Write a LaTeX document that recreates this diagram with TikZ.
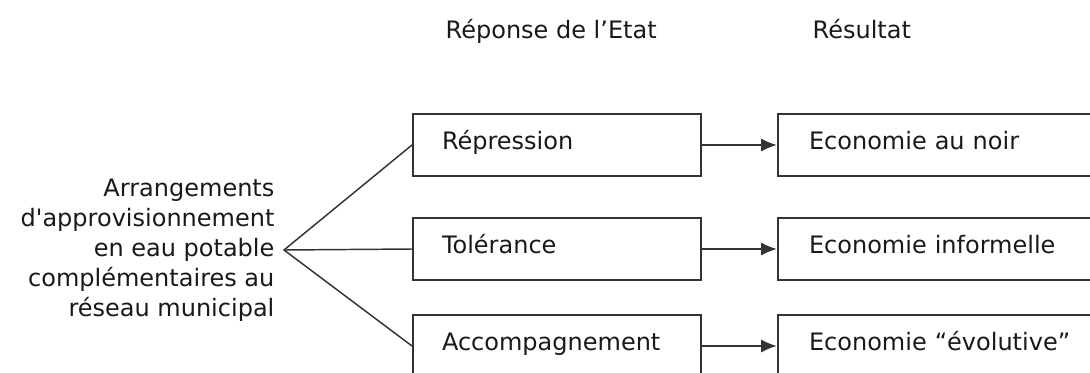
\documentclass[tikz,border=0pt]{standalone}
\usepackage{fontspec}
\setmainfont{DejaVu Sans}
\usetikzlibrary{arrows.meta,positioning}

\begin{document}
\begin{tikzpicture}[
    x=0.75pt, y=-0.75pt,
    font=\fontsize{18}{22.5}\selectfont,
    text=black!90,
    box/.style={
      draw=black!80,
      line width=1.5pt,
      anchor=north west,
      minimum height=46.5pt,
      text height=0.98em,
      text depth=0.25em,
      align=left,
    },
    resp/.style={box, inner xsep=21.75pt, text width=172.5pt},
    res/.style={box, inner xsep=23.25pt, text width=233.5pt},
    link/.style={draw=black!80, line width=1.1pt},
    outcome/.style={draw=black!80, line width=1.5pt,
      -{Latex[length=12pt,width=10pt]}},
  ]
    \clip (0,0) rectangle (1090,372);

    % column headings
    \node[anchor=base west] (hresp) at (441,38) {Réponse de l’Etat};
    \node[anchor=base west] (hres) at (808,38) {Résultat};

    % state responses
    \node[resp] (rep) at (412,113) {Répression};
    \node[resp] (tol) at (412,217) {Tolérance};
    \node[resp] (acc) at (412,314) {Accompagnement};

    % outcomes
    \node[res] (noir) at (777,113) {Economie au noir};
    \node[res] (inf) at (777,217) {Economie informelle};
    \node[res] (evo) at (777,314) {Economie “évolutive”};

    % source
    \coordinate (fork) at (284,250);
    \node[left=7pt of fork, align=right, inner sep=0pt] (arr)
      {Arrangements\\d\textquotesingle approvisionnement\\en eau potable\\complémentaires au\\réseau municipal};

    \draw[link] (rep.west) -- (fork) -- (acc.west);
    \draw[link] (fork) -- (tol.west);

    \draw[outcome] (rep.east) -- (noir.west);
    \draw[outcome] (tol.east) -- (inf.west);
    \draw[outcome] (acc.east) -- (evo.west);
  \end{tikzpicture}
\end{document}
